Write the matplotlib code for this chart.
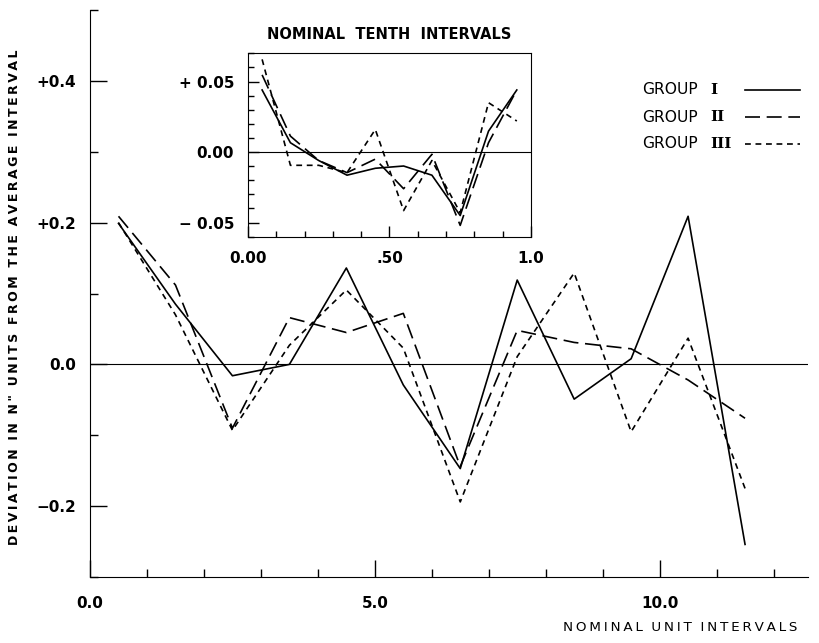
import numpy as np
import matplotlib
matplotlib.use("Agg")
import matplotlib.pyplot as plt
from matplotlib.lines import Line2D
from matplotlib.ticker import MultipleLocator

# main chart: deviation per nominal unit interval
unit_x = [0.5, 1.5, 2.5, 3.5, 4.5, 5.5, 6.5, 7.5, 8.5, 9.5, 10.5, 11.5]
group1 = [0.199, 0.085, -0.016, 0.0, 0.136, -0.029, -0.147, 0.119, -0.049, 0.008, 0.209, -0.254]
group2 = [0.209, 0.112, -0.090, 0.066, 0.045, 0.072, -0.144, 0.048, 0.031, 0.022, -0.022, -0.076]
group3 = [0.200, 0.070, -0.093, 0.027, 0.105, 0.023, -0.194, 0.011, 0.129, -0.095, 0.037, -0.175]

# inset: nominal tenth intervals
tenth_x = [0.05, 0.15, 0.25, 0.35, 0.45, 0.55, 0.65, 0.75, 0.85, 0.95]
tenth1 = [0.044, 0.0066, -0.006, -0.0164, -0.0115, -0.0099, -0.0164, -0.045, 0.0148, 0.044]
tenth2 = [0.0547, 0.0113, -0.006, -0.0146, -0.005, -0.026, -0.0016, -0.052, 0.0066, 0.044]
tenth3 = [0.0657, -0.0094, -0.0094, -0.0146, 0.016, -0.0415, -0.006, -0.043, 0.035, 0.022]

group_names = ["I", "II", "III"]

plt.rcParams['font.family'] = ['DejaVu Sans']

LONG = (0, (9, 4))
SHORT = (0, (3.5, 2.8))
STYLES = ['-', LONG, SHORT]
LW = 1.2


def spaced(s):
    # wide lettering like the old stencil labels
    return '\u2009'.join(s)


fig = plt.figure(figsize=(8.2, 6.43), dpi=100)
ax = fig.add_axes([0.1098, 0.1026, 0.8752, 0.8818])

for vals, ls in zip([group1, group2, group3], STYLES):
    ax.plot(unit_x, vals, color='black', lw=LW, ls=ls)
ax.axhline(0, color='black', lw=0.8)

ax.set_xlim(0, 12.6)
ax.set_ylim(-0.3, 0.5)
for s in ['top', 'right']:
    ax.spines[s].set_visible(False)

ax.set_xticks([0, 5, 10])
ax.set_xticklabels(['0.0', '5.0', '10.0'])
ax.xaxis.set_minor_locator(MultipleLocator(1))
ax.set_yticks([-0.2, 0.0, 0.2, 0.4])
ax.set_yticklabels(['\u22120.2', '0.0', '+0.2', '+0.4'])
ax.yaxis.set_minor_locator(MultipleLocator(0.1))
ax.tick_params(which='major', direction='in', length=12, width=1.0,
               labelsize=11, pad=10)
ax.tick_params(which='minor', direction='in', length=6, width=1.0)
ax.tick_params(axis='x', which='major', pad=14)
for t in ax.get_xticklabels() + ax.get_yticklabels():
    t.set_fontweight('bold')

ylab = '  '.join(spaced(w) for w in 'DEVIATION IN N" UNITS FROM THE AVERAGE INTERVAL'.split())
fig.text(0.018, 0.538, ylab, rotation=90, fontsize=9, fontweight='bold',
         ha='center', va='center')
xlab = '  '.join(spaced(w) for w in 'NOMINAL UNIT INTERVALS'.split())
fig.text(0.972, 0.018, xlab, fontsize=9.7, ha='right')

# legend: label on the left, line sample on the right
for i, (name, ls) in enumerate(zip(group_names, STYLES)):
    yy = 1 - (90 + 27 * i) / 643
    fig.text(642 / 820, yy, 'GROUP', fontsize=11.2, va='center')
    fig.text(710 / 820, yy, name, fontsize=11, fontweight='bold',
             family='DejaVu Serif', va='center')
    fig.add_artist(Line2D([745 / 820, 800 / 820], [yy, yy], color='black',
                          lw=LW, ls=ls, transform=fig.transFigure))

# inset
ins = fig.add_axes([0.3024, 0.6319, 0.3451, 0.2852])
for vals, ls in zip([tenth1, tenth2, tenth3], STYLES):
    ins.plot(tenth_x, vals, color='black', lw=LW, ls=ls)
ins.axhline(0, color='black', lw=0.8)
ins.set_xlim(0, 1.0)
ins.set_ylim(-0.06, 0.07)
ins.set_xticks([0, 0.5, 1.0])
ins.set_xticklabels(['0.00', '.50', '1.0'])
ins.xaxis.set_minor_locator(MultipleLocator(0.1))
ins.set_yticks([-0.05, 0.0, 0.05])
ins.set_yticklabels(['\u2212 0.05', '0.00', '+ 0.05'])
ins.yaxis.set_minor_locator(MultipleLocator(0.01))
ins.tick_params(which='major', direction='in', length=8, width=1.0,
                labelsize=11, pad=10)
ins.tick_params(which='minor', direction='in', length=4, width=1.0)
for t in ins.get_xticklabels() + ins.get_yticklabels():
    t.set_fontweight('bold')
ins.set_title('NOMINAL  TENTH  INTERVALS', fontsize=10.5, fontweight='bold', pad=10)

fig.savefig('out.png', dpi=100)
